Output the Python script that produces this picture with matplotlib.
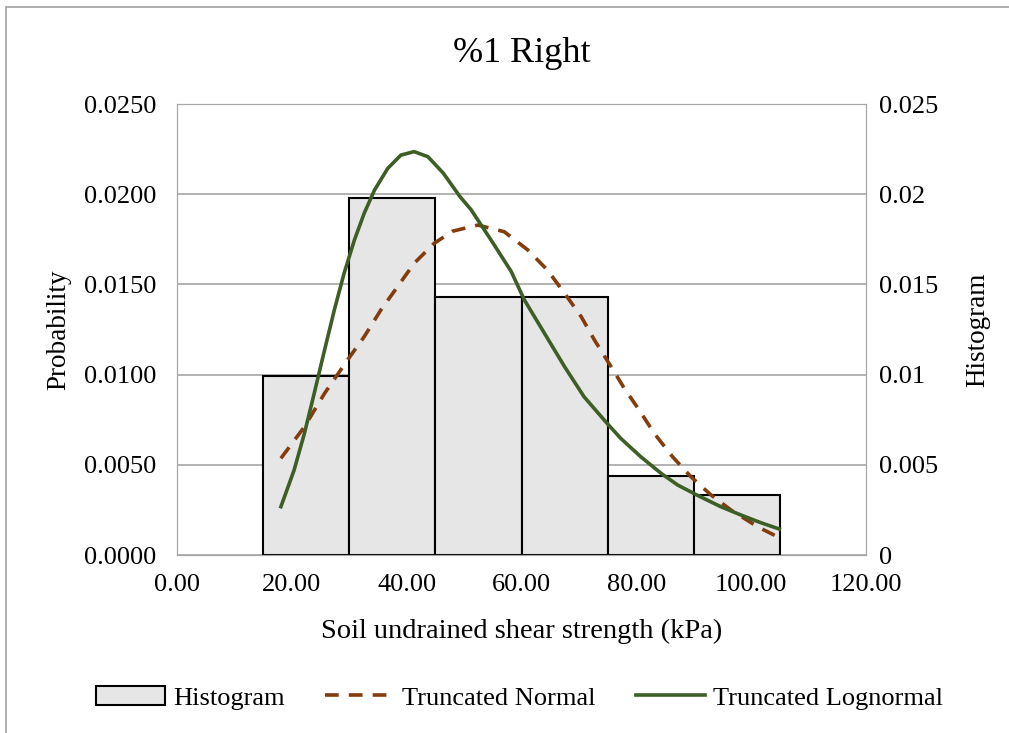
import matplotlib.pyplot as plt
from matplotlib.patches import Rectangle

plt.rcParams['font.family'] = ['Liberation Serif', 'DejaVu Serif']

# Histogram bins (kPa) and heights
bin_left = [15, 30, 45, 60, 75, 90]
bin_width = 15
hist_vals = [0.0099, 0.0198, 0.0143, 0.0143, 0.0044, 0.0033]

# Truncated normal curve
norm_x = [18.1, 22.2, 25.7, 29.7, 32.6, 35.5, 38.4, 41.3, 44.8, 48.0, 52.4, 57.0,
          61.1, 64.5, 67.5, 70.4, 72.7, 75.6, 77.9, 80.7, 83.1, 86.3, 89.5, 93.0,
          96.5, 101.1, 104.6]
norm_y = [0.00536, 0.00711, 0.00896, 0.01081, 0.0121, 0.01358, 0.01487, 0.01617,
          0.01728, 0.01795, 0.01829, 0.01792, 0.01691, 0.0158, 0.01451, 0.01321,
          0.01192, 0.01044, 0.00924, 0.00794, 0.00675, 0.00545, 0.00434, 0.00333,
          0.00249, 0.00157, 0.00101]

# Truncated lognormal curve
logn_x = [18.1, 20.4, 22.2, 23.9, 25.7, 27.4, 29.1, 30.9, 32.6, 34.4, 36.7, 39.0,
          41.3, 43.7, 46.4, 49.3, 51.2, 54.7, 58.2, 60.5, 64.0, 67.5, 70.9, 74.9,
          77.3, 80.8, 84.3, 87.2, 90.7, 94.7, 98.2, 101.7, 104.9]
logn_y = [0.00268, 0.00471, 0.00675, 0.00896, 0.01136, 0.01358, 0.01561, 0.01746,
          0.01894, 0.02023, 0.02143, 0.02217, 0.02236, 0.02208, 0.02116, 0.01986,
          0.01915, 0.01746, 0.01572, 0.01414, 0.01229, 0.01044, 0.00877, 0.0073,
          0.00646, 0.00544, 0.00453, 0.00388, 0.00330, 0.00268, 0.00222, 0.00179,
          0.00144]

grid_c = '#A6A6A6'
fig = plt.figure(figsize=(10.09, 7.33), dpi=100)
ax = fig.add_axes([0.1754, 0.2428, 0.6829, 0.6153])
ax2 = ax.twinx()

# chart border
fig.patches.append(Rectangle((6 / 1009, -0.01), 1.02, 1 - 7 / 733 + 0.01,
                             transform=fig.transFigure, fill=False,
                             edgecolor='#A0A0A0', lw=1.2))

bars = ax2.bar(bin_left, hist_vals, width=bin_width, align='edge',
               color='#E6E6E6', edgecolor='black', lw=1.5, label='Histogram', zorder=2)
ln_n, = ax.plot(norm_x, norm_y, color='#843C0C', lw=2.6, ls=(0, (3.8, 2.8)),
                label='Truncated Normal', zorder=4)
ln_l, = ax.plot(logn_x, logn_y, color='#3D5F26', lw=2.6, label='Truncated Lognormal',
                zorder=4)
ax.set_zorder(ax2.get_zorder() + 1)
ax.patch.set_visible(False)

for a in (ax, ax2):
    a.set_ylim(0, 0.025)
    a.set_xlim(0, 120)
    for s in a.spines.values():
        s.set_color(grid_c)
    a.tick_params(length=0, labelsize=19)
ax.tick_params(axis='y', pad=15)
ax.tick_params(axis='x', pad=14)
ax2.tick_params(axis='y', pad=9)

ax.set_xticks(range(0, 121, 20))
ax.set_xticklabels([f'{v:.2f}' for v in range(0, 121, 20)])
ax.set_yticks([i * 0.005 for i in range(6)])
ax.set_yticklabels([f'{i * 0.005:.4f}' for i in range(6)])
ax2.set_yticks([i * 0.005 for i in range(6)])
ax2.set_yticklabels(['0', '0.005', '0.01', '0.015', '0.02', '0.025'])
ax2.grid(True, color=grid_c, lw=1.2, zorder=0)
ax2.xaxis.grid(True)
ax2.set_axisbelow(True)

ax.set_ylabel('Probability', fontsize=19.5, labelpad=9)
ax2.set_ylabel('Histogram', fontsize=19.5, labelpad=20)
ax.set_xlabel('Soil undrained shear strength (kPa)', fontsize=20.5, labelpad=16)
ax.set_title('%1 Right', fontsize=26, pad=30)

fig.legend([bars, ln_n, ln_l], ['Histogram', 'Truncated Normal', 'Truncated Lognormal'],
           loc='center', bbox_to_anchor=(0.515, 0.048), ncol=3, frameon=False,
           fontsize=19, handlelength=2.6, columnspacing=1.55, handletextpad=0.3)

fig.savefig('out.png', dpi=100)
